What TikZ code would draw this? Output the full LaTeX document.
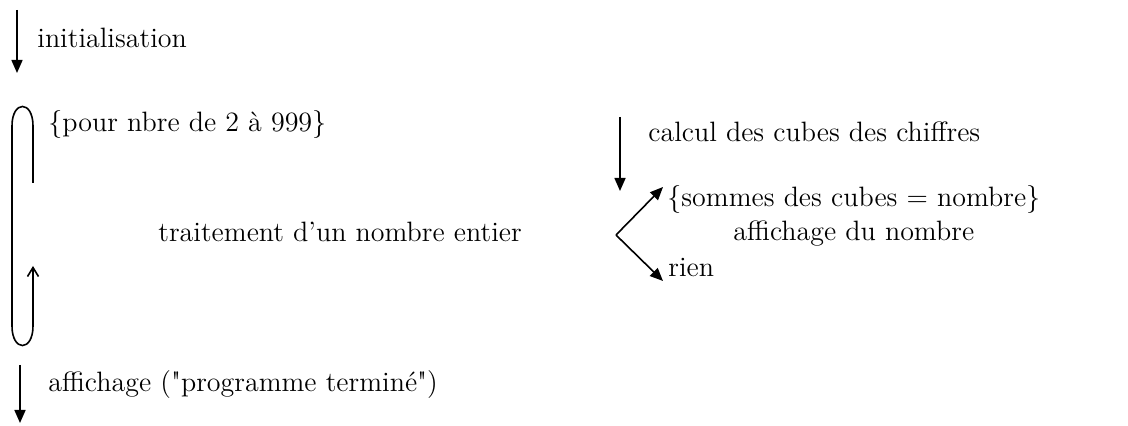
\documentclass[tikz,border=0pt]{standalone}
\usepackage{tikz}
\usetikzlibrary{arrows.meta, positioning}

\begin{document}
\begin{tikzpicture}[
    x=0.5pt, y=-0.5pt,
    txt/.style={anchor=west, inner sep=0pt, font=\fontsize{14}{16}\selectfont},
    ctxt/.style={anchor=center, inner sep=0pt, font=\fontsize{14}{16}\selectfont},
    arrow/.style={-{Triangle[length=6.5pt, width=5.5pt]}, line width=0.8pt},
    looparrow/.style={-{Straight Barb[length=4.5pt, width=5.5pt]}, line width=0.8pt}
]
\useasboundingbox (0,0) rectangle (1128,426);

%% --- MAIN SEQUENCE (left column) ---
\node[txt] (init) at (37,38) {initialisation};
\node[txt] (loop) at (48,125) {\{pour nbre de 2 à 999\}};
\node[txt] (treat) at (158,232) {traitement d'un nombre entier};
\node[txt] (done) at (48,385) {affichage (\textquotedbl programme terminé\textquotedbl)};

%% --- DETAIL OF THE TREATMENT (right column) ---
\node[txt] (cubes) at (648,132) {calcul des cubes des chiffres};
\node[txt] (test) at (667,200) {\{sommes des cubes = nombre\}};
\node[ctxt, below=3pt of test] (show) {affichage du nombre};
\node[txt] (nothing) at (668,268) {rien};

%% --- ARROW END POINTS ---
\coordinate (initA) at (17,10);
\coordinate (initB) at (17,73);
\coordinate (cubesA) at (620,117);
\coordinate (cubesB) at (620,191);
\coordinate (fork) at (616,235);
\coordinate (forkyes) at (663,187);
\coordinate (forkno) at (663,281);
\coordinate (doneA) at (20,365);
\coordinate (doneB) at (20,423);
\coordinate (loopA) at (33,183);
\coordinate (loopB) at (33,266);

%% --- ARROWS ---
\draw[arrow] (initA) -- (initB);
\draw[arrow] (cubesA) -- (cubesB);
\draw[arrow] (fork) -- (forkyes);
\draw[arrow] (fork) -- (forkno);
\draw[arrow] (doneA) -- (doneB);

%% --- LOOP ---
\draw[looparrow] (loopA) -- (33,126)
    .. controls (33,100) and (12,100) .. (12,126)
    -- (12,326)
    .. controls (12,352) and (33,352) .. (33,326)
    -- (loopB);

\end{tikzpicture}
\end{document}
